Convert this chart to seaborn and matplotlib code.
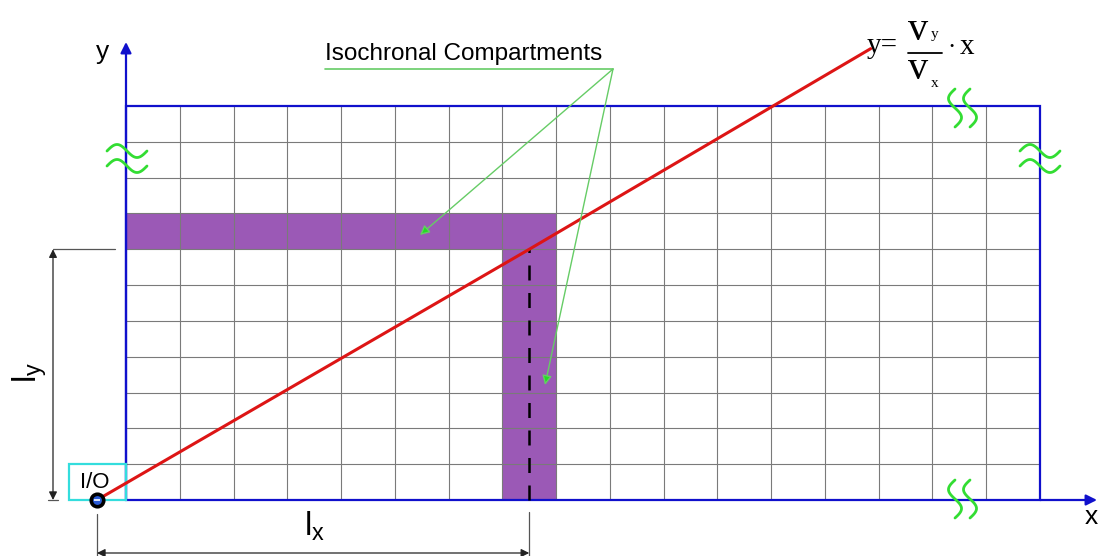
import numpy as np
import pandas as pd
import matplotlib.pyplot as plt
import matplotlib.patches as mpatches
import seaborn as sns

# -------------------- Data --------------------
n_cols = 17            # storage rack columns (x direction)
n_rows = 11            # storage rack rows (y direction)
band_row = 7           # row of the horizontal isochronal compartment
band_col = 7           # column of the vertical isochronal compartment
band_len_x = 8         # horizontal compartment spans columns 0..8
band_len_y = 7         # vertical compartment spans rows 0..7
io_point = [-0.54, 0.0]
hit_point = [7.5, 7.0]
line_x = [-0.54, 7.5, 13.85]
line_y = [0.0, 7.0, 12.6]

# -------------------- Layout helpers (pixel -> grid units) --------------------
W, H = 1099, 556
X0, Y0 = 126, 500
CW = (1040 - 126) / n_cols
CH = (500 - 106) / n_rows


def gx(p):
    return (p - X0) / CW


def gy(p):
    return (Y0 - p) / CH


BLUE = "#1010cc"
GRID = "#7a7a7a"
PURPLE = "#9b59b6"
RED = "#dd1515"
GREEN = "#66cc66"
GREEN_HEAD = "#22dd22"
BREAK = "#33dd33"
CYAN = "#33dddd"

sns.set_theme(style="white")
plt.rcParams["font.family"] = ["Liberation Sans", "DejaVu Sans"]
plt.rcParams["text.color"] = "black"

fig = plt.figure(figsize=(W / 100, H / 100), dpi=100)
ax = fig.add_axes([0, 0, 1, 1])
ax.set_xlim(gx(0), gx(W))
ax.set_ylim(gy(H), gy(0))
ax.axis("off")

# isochronal compartments
ax.add_patch(mpatches.Rectangle((0, band_row), band_len_x, 1, color=PURPLE, lw=0, zorder=1))
ax.add_patch(mpatches.Rectangle((band_col, 0), 1, band_len_y, color=PURPLE, lw=0, zorder=1))

# grid
ax.vlines(np.arange(1, n_cols), 0, n_rows, color=GRID, lw=0.8, zorder=2)
ax.hlines(np.arange(1, n_rows), 0, n_cols, color=GRID, lw=0.8, zorder=2)
ax.add_patch(mpatches.Rectangle((0, 0), n_cols, n_rows, fill=False, ec=BLUE, lw=1.6, zorder=3))

# axes arrows
arrow_kw = dict(arrowstyle="-|>", color=BLUE, lw=1.6, mutation_scale=16, shrinkA=0, shrinkB=0)
ax.annotate("", xy=(0, gy(42)), xytext=(0, 0), arrowprops=arrow_kw, zorder=3)
ax.annotate("", xy=(gx(1097), 0), xytext=(n_cols, 0), arrowprops=arrow_kw, zorder=3)
ax.text(gx(103), gy(52), "y", fontsize=19, ha="center", va="center")
ax.text(gx(1091), gy(517), "x", fontsize=19, ha="center", va="center")

# dashed projection
ax.plot([hit_point[0], hit_point[0]], [0, hit_point[1]], color="black", lw=1.8,
        dashes=(6, 5), zorder=4)

# I/O box
ax.add_patch(mpatches.Rectangle((gx(69), 0), -gx(69), 1, fill=False, ec=CYAN, lw=1.6, zorder=4))
ax.text(gx(95), gy(482), "I/O", fontsize=16, ha="center", va="center", zorder=5)

# travel line y = vy/vx * x
df = pd.DataFrame({"x": line_x, "y": line_y})
sns.lineplot(data=df, x="x", y="y", color=RED, lw=2.2, ax=ax, zorder=5, sort=False)
ax.plot(io_point[0], io_point[1], "o", ms=9, mfc="#2a5bd7", mec="black", mew=2.6, zorder=6)
ax.plot(io_point[0], io_point[1], "_", ms=4, color="white", mew=1.2, zorder=7)

# formula
serif = ["Liberation Serif", "DejaVu Serif"]
ax.text(gx(867), gy(53), "y=", family=serif, fontsize=21, va="baseline", ha="left")
ax.plot([gx(908), gx(942)], [gy(53), gy(53)], color="black", lw=1.3)
ax.text(gx(918), gy(40), "v", family=serif, fontsize=29, va="baseline", ha="center")
ax.text(gx(931), gy(38), "y", family=serif, fontsize=11, va="baseline", ha="left")
ax.text(gx(918), gy(79), "v", family=serif, fontsize=29, va="baseline", ha="center")
ax.text(gx(931), gy(87), "x", family=serif, fontsize=11, va="baseline", ha="left")
ax.text(gx(952), gy(48), "·", family=serif, fontsize=18, va="center", ha="center")
ax.text(gx(960), gy(54), "x", family=serif, fontsize=21, va="baseline", ha="left")

# label with leader arrows
ax.text(gx(325), gy(54), "Isochronal Compartments", fontsize=17.5, ha="left", va="center")
ax.plot([gx(325), gx(613)], [gy(69), gy(69)], color=GREEN, lw=1.2)
green_kw = dict(arrowstyle="-|>", color=GREEN, lw=1.0, mutation_scale=14, shrinkA=0, shrinkB=0)
for tx, ty in [(420, 235), (545, 385)]:
    ax.annotate("", xy=(gx(tx), gy(ty)), xytext=(gx(613), gy(69)),
                arrowprops=dict(green_kw, fc=GREEN_HEAD), zorder=6)

# break marks (one wave period each)
t = np.linspace(0, 1, 60)
wave = 6.5 * np.sin(2 * np.pi * t)
for cx, cy in [(127, 151), (127, 166), (1040, 151), (1040, 166)]:
    ax.plot(gx(cx - 20 + 40 * t), gy(cy - wave), color=BREAK, lw=2, zorder=6)
for cx, cy in [(955, 108), (970, 108), (955, 499), (970, 499)]:
    ax.plot(gx(cx - wave), gy(cy - 19 + 38 * t), color=BREAK, lw=2, zorder=6)

# dimension l_y
dim_kw = dict(arrowstyle="<|-|>", color="#222222", lw=0.9, mutation_scale=12, shrinkA=0, shrinkB=0)
ax.annotate("", xy=(gx(53), 0), xytext=(gx(53), band_row), arrowprops=dim_kw)
ax.plot([gx(53), gx(115)], [band_row, band_row], color="#555555", lw=0.9)
ax.plot([gx(48), gx(58)], [0, 0], color="#555555", lw=0.9)
ax.text(gx(30), gy(372), r"$\mathregular{l_y}$", fontsize=24, rotation=90, ha="center", va="center")

# dimension l_x
ax.annotate("", xy=(io_point[0], gy(553)), xytext=(hit_point[0], gy(553)), arrowprops=dim_kw)
ax.plot([io_point[0], io_point[0]], [gy(514), gy(556)], color="#555555", lw=0.9)
ax.plot([hit_point[0], hit_point[0]], [gy(512), gy(556)], color="#555555", lw=0.9)
ax.text(gx(315), gy(526), r"$\mathregular{l_x}$", fontsize=24, ha="center", va="center")

fig.savefig("out.png", dpi=100)
